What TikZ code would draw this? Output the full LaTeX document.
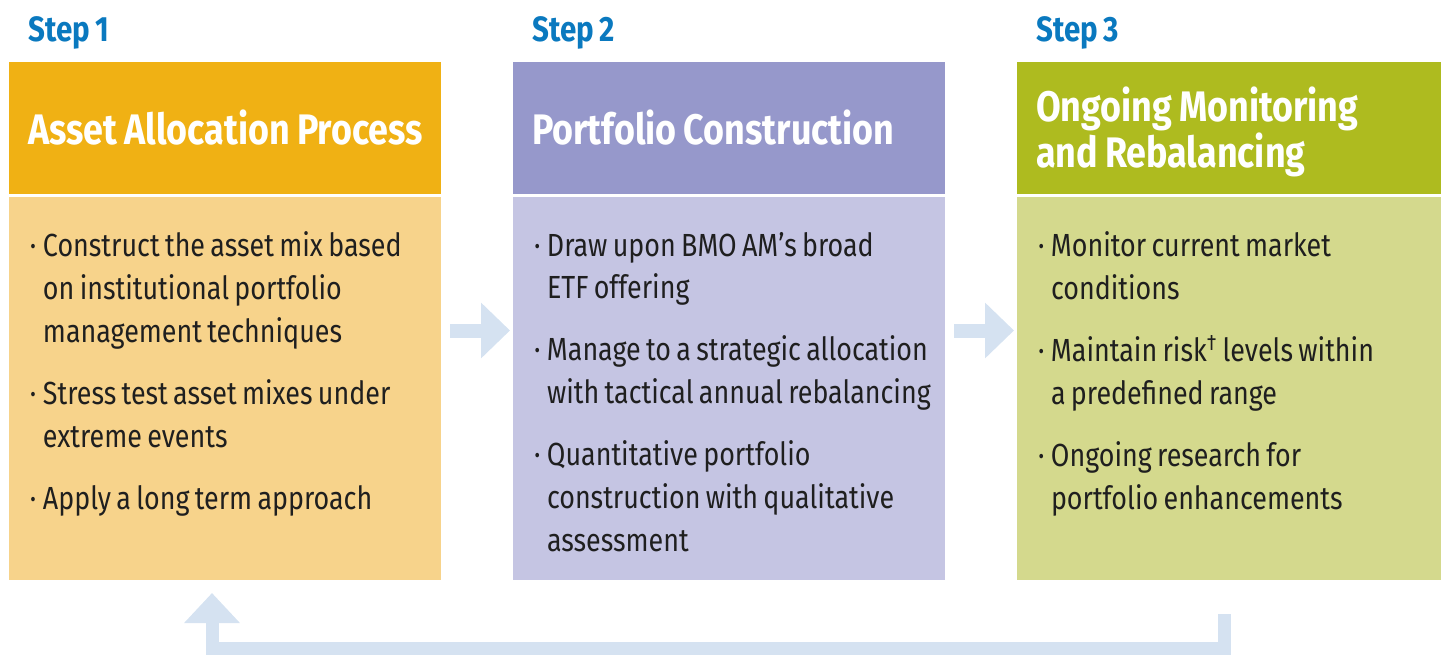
\documentclass[tikz,border=0pt]{standalone}
\usepackage{fontspec}
\setmainfont{Fira Sans}[FakeStretch=0.84, WordSpace=0.75]
\usetikzlibrary{arrows.meta}
\usetikzlibrary{positioning}

\definecolor{stepblue}{HTML}{0A79BF}
\definecolor{orangehead}{HTML}{F0B114}
\definecolor{orangebody}{HTML}{F7D38B}
\definecolor{purplehead}{HTML}{9698CB}
\definecolor{purplebody}{HTML}{C5C5E3}
\definecolor{greenhead}{HTML}{AEBB1F}
\definecolor{greenbody}{HTML}{D4D98D}
\definecolor{flowblue}{HTML}{D5E2F1}

\newcommand{\stepitem}[1]{\par\hangindent=0.26cm\hangafter=1\noindent\makebox[0.26cm][l]{·}#1\par}
\newcommand{\itemlist}[2]{\vbox to 7.66cm{\hsize=#1\leftskip=0.42cm\rightskip=0pt plus 1fil\hfuzz=2cm\parskip=10.8pt\vskip 0.32cm #2\vfill}}
\newcommand{\headtight}{\spaceskip=0.17em\relax}

\tikzset{
  steplabel/.style={anchor=base west, inner sep=0pt, text=stepblue, font=\bfseries\fontsize{20}{22}\selectfont},
  headbox/.style={fill=#1, anchor=north west, outer sep=0pt, minimum height=2.64cm, inner xsep=0.38cm, inner ysep=0pt, align=left, text=white, font=\bfseries\fontsize{24.3}{25}\selectfont},
  bodybox/.style={fill=#1, outer sep=0pt, inner sep=0pt, minimum height=7.66cm, text=black!88, font=\fontsize{18.2}{24.4}\selectfont},
  flowarrow/.style={draw=flowblue, line width=0.28cm, -{Triangle[length=0.58cm,width=1.08cm]}}
}

\begin{document}
\begin{tikzpicture}
  \useasboundingbox (0,0) rectangle (28.82,-13.08);

  \node[headbox=orangehead, text width=7.88cm] (h1) at (0.18,-1.24) {\headtight\makebox[\linewidth][l]{Asset Allocation Process}};
  \node[headbox=purplehead, text width=7.88cm, right=1.44cm of h1.north east, anchor=north west] (h2) {\headtight\makebox[\linewidth][l]{Portfolio Construction}};
  \node[headbox=greenhead, text width=7.72cm, right=1.44cm of h2.north east, anchor=north west] (h3) {\headtight\rule{0pt}{0.86cm}Ongoing Monitoring\\and Rebalancing};

  \node[steplabel] (s1) at (0.56,-0.84) {Step 1};
  \node[steplabel] (s2) at (10.64,-0.84) {Step 2};
  \node[steplabel] (s3) at (20.72,-0.84) {Step 3};

  \node[bodybox=orangebody, below=0.06cm of h1.south west, anchor=north west] (b1) {\itemlist{8.64cm}{
    \stepitem{Construct the asset mix based\newline on institutional portfolio\newline management techniques}
    \stepitem{Stress test asset mixes under\newline extreme events}
    \stepitem{Apply a long term approach}}};
  \node[bodybox=purplebody, below=0.06cm of h2.south west, anchor=north west] (b2) {\itemlist{8.64cm}{
    \stepitem{Draw upon BMO AM’s broad\newline ETF offering}
    \stepitem{Manage to a strategic allocation\newline with tactical annual rebalancing}
    \stepitem{Quantitative portfolio\newline construction with qualitative\newline assessment}}};
  \node[bodybox=greenbody, below=0.06cm of h3.south west, anchor=north west] (b3) {\itemlist{8.48cm}{
    \stepitem{Monitor current market\newline conditions}
    \stepitem{Maintain risk\textsuperscript{†} levels within\newline a predefined range}
    \stepitem{Ongoing research for\newline portfolio enhancements}}};

  % arrows between the steps
  \draw[flowarrow, shorten <=0.18cm, shorten >=0.06cm] ([yshift=1.16cm]b1.east) -- ([yshift=1.16cm]b2.west);
  \draw[flowarrow, shorten <=0.18cm, shorten >=0.06cm] ([yshift=1.16cm]b2.east) -- ([yshift=1.16cm]b3.west);

  % back to step 1
  \draw[flowarrow, line width=0.26cm, line join=miter, -{Triangle[length=0.6cm,width=1.08cm]}]
    ([xshift=-0.1cm,yshift=-0.68cm]b3.south) -- ++(0,-0.68) -| ([xshift=-0.26cm,yshift=-0.26cm]b1.south);
\end{tikzpicture}
\end{document}
